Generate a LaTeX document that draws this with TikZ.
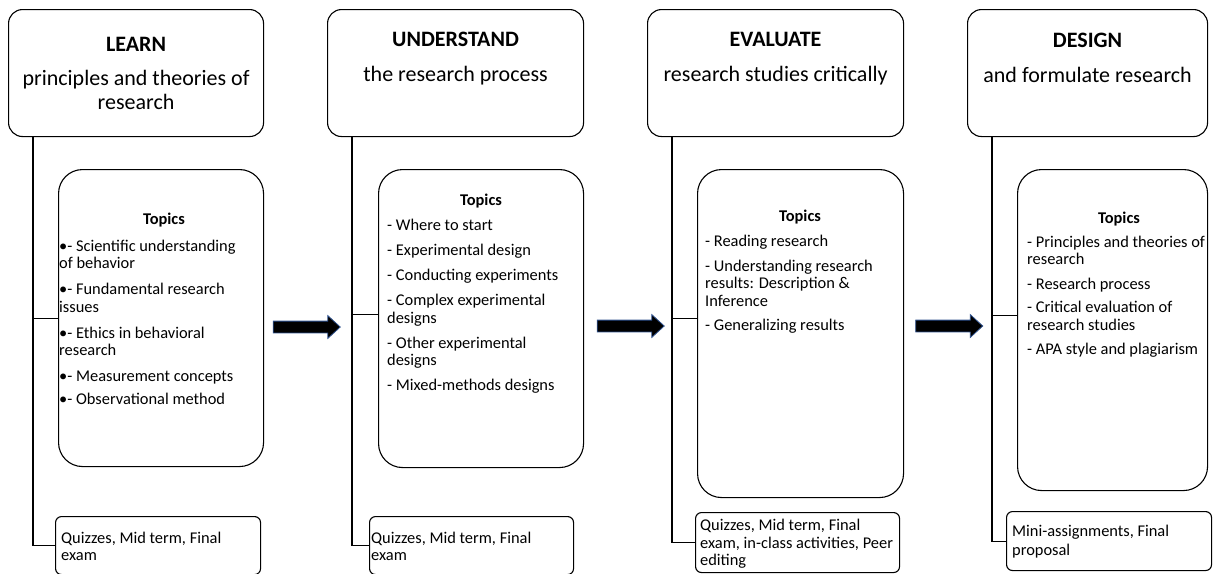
\documentclass[tikz,border=0pt]{standalone}
\usepackage{fontspec}
\setmainfont{Carlito}
\usepackage{xcolor}
\usetikzlibrary{shapes.arrows,positioning}
\definecolor{arrowblue}{RGB}{47,82,143}

\tikzset{
  headbox/.style={draw, rounded corners=14pt, line width=1.1pt, inner sep=0pt, anchor=north west},
  topicbox/.style={draw, rounded corners=24pt, line width=1.1pt, inner sep=0pt, anchor=north west},
  markbox/.style={draw, rounded corners=6pt, line width=1.1pt, inner sep=0pt, anchor=north west},
  headtext/.style={font=\fontsize{22}{24.5}\selectfont, align=center, inner sep=0pt, anchor=north},
  titletext/.style={font=\fontsize{16.4}{17.5}\selectfont\bfseries, inner sep=0pt, anchor=north},
  listtext/.style={font=\fontsize{16.4}{17.5}\selectfont, align=left, inner sep=0pt, anchor=north west},
  bigarrow/.style={single arrow, draw=arrowblue, fill=black, line width=0.8pt,
    minimum height=67pt, minimum width=22pt, single arrow head extend=5.5pt,
    single arrow tip angle=85, inner xsep=0pt, inner ysep=5.5pt},
  link/.style={line width=1.1pt}
}

\begin{document}
\begin{tikzpicture}[x=1pt, y=-1pt]
  \useasboundingbox (0,0) rectangle (1217,573);

  % header boxes
  \node[headbox, minimum width=255pt, minimum height=127pt] (h1) at (8,9) {};
  \node[headbox, minimum width=256pt, minimum height=127pt] (h2) at (327,9) {};
  \node[headbox, minimum width=256pt, minimum height=127pt] (h3) at (647,9) {};
  \node[headbox, minimum width=240pt, minimum height=127pt] (h4) at (967,9) {};

  \node[headtext, below=28.5pt of h1.north] {\textbf{LEARN}\\[9pt] principles and theories of\\ research};
  \node[headtext, below=22.5pt of h2.north] {\textbf{UNDERSTAND}\\[10.5pt] the research process};
  \node[headtext, below=23.5pt of h3.north] {\textbf{EVALUATE}\\[10.5pt] research studies critically};
  \node[headtext, below=23.5pt of h4.north] {\textbf{DESIGN}\\[10.5pt] and formulate research};

  % topic boxes
  \node[topicbox, minimum width=205pt, minimum height=297pt] (t1) at (58,169) {};
  \node[topicbox, minimum width=205pt, minimum height=298pt] (t2) at (378,169) {};
  \node[topicbox, minimum width=206pt, minimum height=328pt] (t3) at (697,169) {};
  \node[topicbox, minimum width=190pt, minimum height=321pt] (t4) at (1017,169) {};

  \node[titletext] at (164,212.5) {Topics};
  \node[listtext] at (59,239.5) {•- Scientific understanding\\ of behavior\\[8.5pt]
    •- Fundamental research\\ issues\\[8.5pt] •- Ethics in behavioral\\ research\\[8.5pt]
    •- Measurement concepts\\[5.5pt] •- Observational method};

  \node[titletext] at (481,193.5) {Topics};
  \node[listtext] at (387,218.5) {- Where to start\\[8pt] - Experimental design\\[7.5pt]
    - Conducting experiments\\[7.5pt] - Complex experimental\\ designs\\[7.5pt]
    - Other experimental\\ designs\\[7.5pt] - Mixed-methods designs};

  \node[titletext] at (800,209.5) {Topics};
  \node[listtext] at (705,234.5) {- Reading research\\[7.5pt] - Understanding research\\
    results: Description \&\\ Inference\\[6.5pt] - Generalizing results};

  \node[titletext] at (1119,211.5) {Topics};
  \node[listtext] at (1027,235.5) {- Principles and theories of\\ research\\[7.5pt]
    - Research process\\[5.5pt] - Critical evaluation of\\ research studies\\[6.5pt]
    - APA style and plagiarism};

  % assessment boxes
  \node[markbox, minimum width=205pt, minimum height=58pt] (q1) at (55,516) {};
  \node[markbox, minimum width=204pt, minimum height=58pt] (q2) at (369,516) {};
  \node[markbox, minimum width=204pt, minimum height=60pt] (q3) at (695,512) {};
  \node[markbox, minimum width=205pt, minimum height=59pt] (q4) at (1006,511) {};

  \node[listtext] at (61,531.5) {Quizzes, Mid term, Final\\ exam};
  \node[listtext] at (371,531.5) {Quizzes, Mid term, Final\\ exam};
  \node[listtext] at (700,519) {Quizzes, Mid term, Final\\ exam, in-class activities, Peer\\ editing};
  \node[listtext] at (1012,524.5) {Mini-assignments, Final\\[1.5pt] proposal};

  % connectors
  \coordinate (e1) at (t1.west);
  \coordinate (e2) at ([yshift=4pt]t2.west);
  \coordinate (e3) at ([yshift=15pt]t3.west);
  \coordinate (e4) at ([yshift=14.5pt]t4.west);
  \foreach \i in {1,...,4} {
    \coordinate (v\i) at ([xshift=25pt]h\i.south west);
    \draw[link] (v\i) |- (q\i.west);
    \draw[link] (v\i |- e\i) -- (e\i);
  }

  % arrows between stages
  \node[bigarrow] (a1) at (303.5,327) {};
  \node[bigarrow] (a2) at (627.5,326) {};
  \node[bigarrow] (a3) at (946,326) {};
\end{tikzpicture}
\end{document}
